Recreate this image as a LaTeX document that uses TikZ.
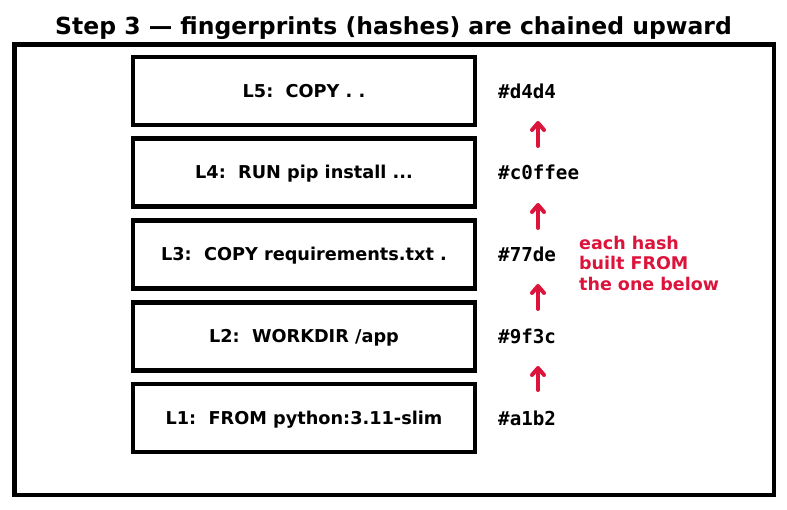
\documentclass[tikz,border=0pt]{standalone}
\usepackage{fontspec}
\setmainfont{DejaVu Sans}
\setmonofont{DejaVu Sans Mono}
\usepackage{xcolor}
\usetikzlibrary{arrows.meta,positioning}
\definecolor{hashred}{HTML}{DC143C}

\begin{document}
\begin{tikzpicture}[
    x=1pt, y=-1pt,
    layerbox/.style={draw, line width=4.5pt, minimum width=342pt, minimum height=68pt, align=center, text height=13pt, text depth=0pt, font=\fontsize{17.7}{21}\selectfont\bfseries},
    hash/.style={anchor=west, inner sep=0pt, font=\fontsize{19.2}{21}\selectfont\ttfamily\bfseries},
    arr/.style={-{Straight Barb[length=7pt, width=12pt, round]}, line width=4pt, hashred, line cap=round}
]
    \useasboundingbox (0,0) rectangle (787,510);
    \node[font=\fontsize{23.5}{26}\selectfont\bfseries] (title) at (393.5,28) {Step 3 — fingerprints (hashes) are chained upward};
    \draw[line width=4.5pt] (14.5,44.5) rectangle (774,495);
    % layers, bottom to top
    \node[layerbox] (l1) at (304,418) {L1:\ \ FROM python:3.11-slim};
    \node[layerbox] (l2) at (304,336.5) {L2:\ \ WORKDIR /app};
    \node[layerbox] (l3) at (304,254.5) {L3:\ \ COPY requirements.txt .};
    \node[layerbox] (l4) at (304,172.5) {L4:\ \ RUN pip install ...};
    \node[layerbox] (l5) at (304,91) {L5:\ \ COPY . .};
    % hashes
    \node[hash] (h1) at (498,418) {\#a1b2};
    \node[hash] (h2) at (498,336.5) {\#9f3c};
    \node[hash] (h3) at (498,254.5) {\#77de};
    \node[hash] (h4) at (498,172.5) {\#c0ffee};
    \node[hash] (h5) at (498,91) {\#d4d4};
    \coordinate (a1) at (538,390);
    \coordinate (b1) at (538,366);
    \coordinate (a2) at (538,309);
    \coordinate (b2) at (538,284);
    \coordinate (a3) at (538,228);
    \coordinate (b3) at (538,203);
    \coordinate (a4) at (538,146);
    \coordinate (b4) at (538,121);
    \foreach \i in {1,...,4}
        \draw[arr] (a\i) -- (b\i);
    \node[anchor=north west, inner sep=0pt, align=left, text=hashred, font=\fontsize{17.5}{20.5}\selectfont\bfseries] (note) at (579,236) {each hash\\built FROM\\the one below};
\end{tikzpicture}
\end{document}
